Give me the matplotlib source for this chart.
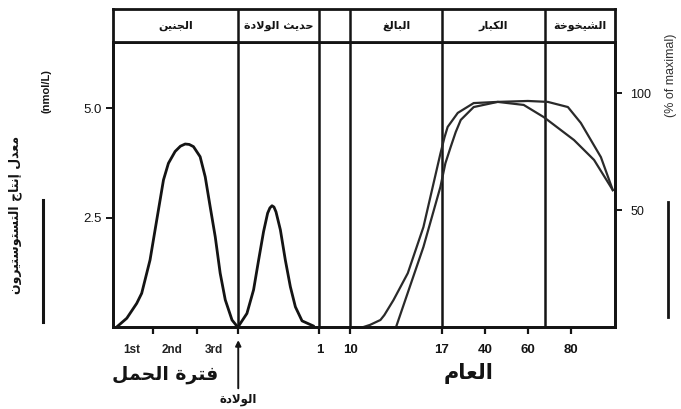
import numpy as np
import matplotlib
matplotlib.use("Agg")
import matplotlib.pyplot as plt
from matplotlib.lines import Line2D

# ---------------- data ----------------
stage_names = ["الجنين", "حديث الولادة", "", "البالغ", "الكبار", "الشيخوخة"]
stage_edges = [-0.75, 0, 1, 10, 17, 68, 100]          # age (years) of stage boundaries

# fetal testosterone (nmol/L) vs age in years (negative = before birth)
fetal_age = [-0.727, -0.664, -0.602, -0.571, -0.519, -0.479, -0.441, -0.413, -0.375,
             -0.345, -0.318, -0.295, -0.271, -0.232, -0.201, -0.171, -0.140, -0.110,
             -0.079, -0.038, -0.008]
fetal_level = [0.0, 0.2, 0.54, 0.77, 1.53, 2.45, 3.36, 3.74, 4.01,
               4.13, 4.18, 4.17, 4.12, 3.89, 3.43, 2.75, 2.06, 1.23,
               0.62, 0.16, 0.02]

# neonatal surge (nmol/L)
neonatal_age = [0.004, 0.107, 0.189, 0.251, 0.312, 0.362, 0.390, 0.416, 0.440, 0.465,
                0.519, 0.580, 0.642, 0.704, 0.786, 0.930]
neonatal_level = [0.02, 0.31, 0.85, 1.53, 2.18, 2.60, 2.72, 2.77, 2.74, 2.63,
                  2.22, 1.53, 0.92, 0.46, 0.14, 0.02]

# puberty to old age (% of maximal), two curves
adult_age_a = [11.0, 11.5, 12.3, 12.6, 13.3, 14.4, 15.6, 16.9, 18.5, 20.2, 25.6, 34.1,
               46.0, 58.1, 67.4, 81.4, 90.5, 99.0]
adult_pct_a = [0.0, 0.9, 3.0, 5.1, 11.5, 23.0, 42.7, 74.0, 81.0, 85.5, 91.5, 95.7,
               96.2, 94.9, 89.7, 79.9, 71.4, 58.5]
adult_age_b = [13.5, 15.6, 16.9, 19.0, 21.8, 24.5, 27.2, 34.1, 46.0, 60.0, 69.3,
               78.6, 84.5, 93.6, 99.0]
adult_pct_b = [0.0, 34.2, 59.8, 70.0, 76.9, 83.3, 88.5, 94.0, 96.2, 96.6, 96.2,
               94.0, 87.2, 72.6, 58.5]

level_ticks = [2.5, 5.0]
level_tick_labels = ["2.5", "5.0"]
pct_ticks = [50, 100]
pct_tick_labels = ["50", "100"]
age_ticks = [-0.5, -0.25, 0, 1, 10, 17, 40, 60, 80]
age_tick_labels = ["", "", "", "1", "10", "17", "40", "60", "80"]
trimester_centers = [-0.63, -0.39, -0.15]
trimester_labels = ["1st", "2nd", "3rd"]

# piecewise age axis: knot ages and their relative positions along the axis
age_knots = [-0.75, -0.5, -0.25, 0, 1, 10, 17, 40, 60, 80, 100]
knot_pos = [0, 40, 84, 125, 206, 237, 328, 371, 414, 457, 501]


def age_fwd(x):
    return np.interp(x, age_knots, knot_pos)


def age_inv(p):
    return np.interp(p, knot_pos, age_knots)


# ---------------- Arabic shaping (presentation forms, visual order) ----------------
_FORMS = {
    'ا': ('\uFE8D', '\uFE8E', None, None),
    'أ': ('\uFE83', '\uFE84', None, None),
    'إ': ('\uFE87', '\uFE88', None, None),
    'آ': ('\uFE81', '\uFE82', None, None),
    'ب': ('\uFE8F', '\uFE90', '\uFE91', '\uFE92'),
    'ة': ('\uFE93', '\uFE94', None, None),
    'ت': ('\uFE95', '\uFE96', '\uFE97', '\uFE98'),
    'ث': ('\uFE99', '\uFE9A', '\uFE9B', '\uFE9C'),
    'ج': ('\uFE9D', '\uFE9E', '\uFE9F', '\uFEA0'),
    'ح': ('\uFEA1', '\uFEA2', '\uFEA3', '\uFEA4'),
    'خ': ('\uFEA5', '\uFEA6', '\uFEA7', '\uFEA8'),
    'د': ('\uFEA9', '\uFEAA', None, None),
    'ذ': ('\uFEAB', '\uFEAC', None, None),
    'ر': ('\uFEAD', '\uFEAE', None, None),
    'ز': ('\uFEAF', '\uFEB0', None, None),
    'س': ('\uFEB1', '\uFEB2', '\uFEB3', '\uFEB4'),
    'ش': ('\uFEB5', '\uFEB6', '\uFEB7', '\uFEB8'),
    'ع': ('\uFEC9', '\uFECA', '\uFECB', '\uFECC'),
    'غ': ('\uFECD', '\uFECE', '\uFECF', '\uFED0'),
    'ف': ('\uFED1', '\uFED2', '\uFED3', '\uFED4'),
    'ق': ('\uFED5', '\uFED6', '\uFED7', '\uFED8'),
    'ك': ('\uFED9', '\uFEDA', '\uFEDB', '\uFEDC'),
    'ل': ('\uFEDD', '\uFEDE', '\uFEDF', '\uFEE0'),
    'م': ('\uFEE1', '\uFEE2', '\uFEE3', '\uFEE4'),
    'ن': ('\uFEE5', '\uFEE6', '\uFEE7', '\uFEE8'),
    'ه': ('\uFEE9', '\uFEEA', '\uFEEB', '\uFEEC'),
    'و': ('\uFEED', '\uFEEE', None, None),
    'ي': ('\uFEF1', '\uFEF2', '\uFEF3', '\uFEF4'),
}
_LAM_ALEF = {'ا': ('\uFEFB', '\uFEFC'), 'أ': ('\uFEF7', '\uFEF8'),
             'إ': ('\uFEF9', '\uFEFA'), 'آ': ('\uFEF5', '\uFEF6')}


def _dual(c):
    return c in _FORMS and _FORMS[c][2] is not None


def ar(text):
    chars = list(text)
    out = []
    i = 0
    while i < len(chars):
        c = chars[i]
        if c not in _FORMS:
            out.append(c)
            i += 1
            continue
        joins_prev = i > 0 and _dual(chars[i - 1])
        if c == 'ل' and i + 1 < len(chars) and chars[i + 1] in _LAM_ALEF:
            iso, fin = _LAM_ALEF[chars[i + 1]]
            out.append(fin if joins_prev else iso)
            i += 2
            continue
        joins_next = _dual(c) and i + 1 < len(chars) and chars[i + 1] in _FORMS
        iso, fin, ini, med = _FORMS[c]
        if joins_prev and joins_next:
            out.append(med)
        elif joins_prev:
            out.append(fin)
        elif joins_next:
            out.append(ini)
        else:
            out.append(iso)
        i += 1
    return ''.join(reversed(out))


# ---------------- figure ----------------
W, H = 681, 409
fig = plt.figure(figsize=(W / 100, H / 100), dpi=100)
fig.patch.set_facecolor("white")

INK = "#141414"
AR_FONT = ["DejaVu Sans"]
NUM_FONT = ["Liberation Sans", "DejaVu Sans"]


def fx(px):
    return px / W


def fy(py):
    return 1 - py / H


L, R, T, B, HT = 113, 615, 42, 327, 9
ax = fig.add_axes([fx(L), fy(B), (R - L) / W, (B - T) / H])
ax.set_xscale("function", functions=(age_fwd, age_inv))
ax.set_xlim(age_knots[0], age_knots[-1])
ax.set_ylim(0, 6.51)

ax.plot(fetal_age, fetal_level, color=INK, lw=2.0, solid_joinstyle="round",
        solid_capstyle="round")
ax.plot(neonatal_age, neonatal_level, color=INK, lw=2.0, solid_joinstyle="round",
        solid_capstyle="round")

for e in stage_edges[1:-1]:
    ax.axvline(e, color=INK, lw=1.8)

ax.set_yticks(level_ticks)
ax.set_yticklabels(level_tick_labels, fontfamily=NUM_FONT, fontsize=9.5, color="#222")
ax.tick_params(axis="y", direction="out", length=5, width=1.4, pad=3, colors=INK)

ax.set_xticks(age_ticks)
ax.set_xticklabels(age_tick_labels, fontfamily=NUM_FONT, fontsize=9.5, fontweight="bold",
                   color="#222")
ax.set_xticks(trimester_centers, minor=True)
ax.set_xticklabels(trimester_labels, minor=True, fontfamily=NUM_FONT, fontsize=8.5,
                   fontweight="bold", color="#222")
ax.tick_params(axis="x", which="major", direction="out", length=5, width=1.6, pad=7,
               colors=INK)
ax.tick_params(axis="x", which="minor", length=0, pad=12)

for s in ax.spines.values():
    s.set_linewidth(2.0)
    s.set_color(INK)

# right axis for % of maximal
ax2 = ax.twinx()
ax2.set_ylim(0, 121.8)
ax2.plot(adult_age_a, adult_pct_a, color="#2a2a2a", lw=1.6, solid_joinstyle="round")
ax2.plot(adult_age_b, adult_pct_b, color="#2a2a2a", lw=1.6, solid_joinstyle="round")
ax2.set_yticks(pct_ticks)
ax2.set_yticklabels(pct_tick_labels, fontfamily=NUM_FONT, fontsize=9, color="#333")
ax2.tick_params(axis="y", direction="out", length=5, width=1.4, pad=6, colors=INK)
for s in ax2.spines.values():
    s.set_linewidth(2.0)
    s.set_color(INK)

# stage header row
axh = fig.add_axes([fx(L), fy(T), (R - L) / W, (T - HT) / H])
axh.set_xscale("function", functions=(age_fwd, age_inv))
axh.set_xlim(age_knots[0], age_knots[-1])
axh.set_ylim(0, 1)
axh.set_xticks([])
axh.set_yticks([])
for s in axh.spines.values():
    s.set_linewidth(2.0)
    s.set_color(INK)
for e in stage_edges[1:-1]:
    axh.axvline(e, color=INK, lw=1.8)
for a, b, name in zip(stage_edges[:-1], stage_edges[1:], stage_names):
    if name:
        mid = age_inv((age_fwd(a) + age_fwd(b)) / 2)
        axh.text(mid, 0.5, ar(name), ha="center", va="center", fontsize=8,
                 fontweight="bold", family=AR_FONT, color=INK)

# axis titles
fig.text(fx(15), fy(215), ar("معدل إنتاج التستوستيرون"), rotation=90, ha="center",
         va="center", fontsize=9, fontweight="bold", family=AR_FONT, color=INK)
fig.text(fx(47), fy(91), "(nmol/L)", rotation=90, ha="center", va="center",
         fontsize=8, fontweight="bold", family=NUM_FONT, color=INK)
fig.text(fx(671), fy(75), "(% of maximal)", rotation=90, ha="center", va="center",
         fontsize=9, family=NUM_FONT, color="#333")
fig.add_artist(Line2D([fx(43), fx(43)], [fy(200), fy(322)], transform=fig.transFigure,
                      color=INK, lw=2.2))
fig.add_artist(Line2D([fx(668), fx(668)], [fy(202), fy(317)], transform=fig.transFigure,
                      color=INK, lw=2.0))

fig.text(fx(165), fy(374), ar("فترة الحمل"), ha="center", va="center", fontsize=13.5,
         fontweight="bold", family=AR_FONT, color=INK)
fig.text(fx(469), fy(373), ar("العام"), ha="center", va="center", fontsize=15,
         fontweight="bold", family=AR_FONT, color=INK)

# birth marker
ax.annotate("", xy=(0, -0.3), xycoords="data", xytext=(0, -1.4),
            textcoords="data", annotation_clip=False,
            arrowprops=dict(arrowstyle="-|>", color=INK, lw=1.4, mutation_scale=8,
                            shrinkA=0, shrinkB=0))
fig.text(fx(238), fy(399), ar("الولادة"), ha="center", va="center", fontsize=8.5,
         fontweight="bold", family=AR_FONT, color=INK)

fig.savefig("out.png", dpi=100, facecolor="white")
